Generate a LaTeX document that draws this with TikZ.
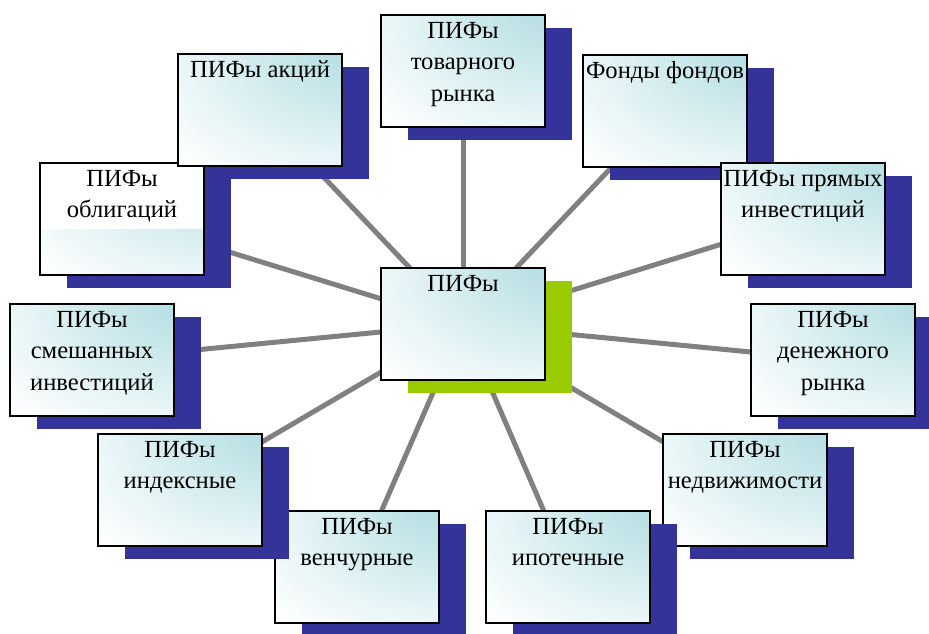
\documentclass[tikz,border=0pt]{standalone}
\usepackage{fontspec}
\setmainfont{Liberation Serif}
\usetikzlibrary{shadows,backgrounds}
\definecolor{sombra}{RGB}{51,51,153}
\definecolor{verde}{RGB}{153,204,0}
\definecolor{celeste}{RGB}{182,223,227}
\definecolor{gris}{RGB}{128,128,128}
\pgfdeclareradialshading{esquina}{\pgfpoint{42bp}{42bp}}{%
    color(0bp)=(celeste); color(16bp)=(celeste); color(45bp)=(celeste!35!white);
    color(62bp)=(white); color(120bp)=(white)}
\newcommand{\caja}[1]{\parbox[c][2.24cm][t]{3.28cm}{\centering\rule{0pt}{0.46cm}#1}}
\begin{document}
\begin{tikzpicture}[x=0.02cm, y=-0.02cm,
    pif/.style = {draw, line width=1.1pt, inner sep=0pt, font=\fontsize{14}{18}\selectfont,
        shading=esquina,
        drop shadow={shadow xshift=0.54cm, shadow yshift=-0.26cm, fill=#1, opacity=1}},
    pif/.default = sombra,
    linea/.style = {draw=gris, line width=0.1cm}]
    \useasboundingbox (0,0) rectangle (929,633);

    % Centro
    \node[pif=verde] (1) at (463,324) {\caja{ПИФы}};

    % Arriba
    \node[pif, path picture={\fill[white] (path picture bounding box.north west)
        rectangle ([yshift=-1.32cm]path picture bounding box.north east);}]
        (2) at (122,219) {\caja{ПИФы\\облигаций}};
    \node[pif] (3) at (260,110) {\caja{ПИФы акций}};
    \node[pif] (4) at (463,71) {\caja{ПИФы\\товарного\\рынка}};
    \node[pif] (5) at (665,111) {\caja{Фонды фондов}};
    \node[pif] (6) at (803,219) {\caja{ПИФы прямых\\инвестиций}};

    % Abajo
    \node[pif] (7) at (833,360) {\caja{ПИФы\\денежного\\рынка}};
    \node[pif] (8) at (745,490) {\caja{ПИФы\\недвижимости}};
    \node[pif] (9) at (568,567) {\caja{ПИФы\\ипотечные}};
    \node[pif] (10) at (357,567) {\caja{ПИФы\\венчурные}};
    \node[pif] (11) at (180,490) {\caja{ПИФы\\индексные}};
    \node[pif] (12) at (92,360) {\caja{ПИФы\\смешанных\\инвестиций}};

    % Conexiones
    \begin{scope}[on background layer]
    \draw[linea] (1.center) -- (2.center);
    \draw[linea] (1.center) -- (3.center);
    \draw[linea] (1.center) -- (4.center);
    \draw[linea] (1.center) -- (5.center);
    \draw[linea] (1.center) -- (6.center);
    \draw[linea] (1.center) -- (7.center);
    \draw[linea] (1.center) -- (8.center);
    \draw[linea] (1.center) -- (9.center);
    \draw[linea] (1.center) -- (10.center);
    \draw[linea] (1.center) -- (11.center);
    \draw[linea] (1.center) -- (12.center);
    \end{scope}
\end{tikzpicture}
\end{document}
